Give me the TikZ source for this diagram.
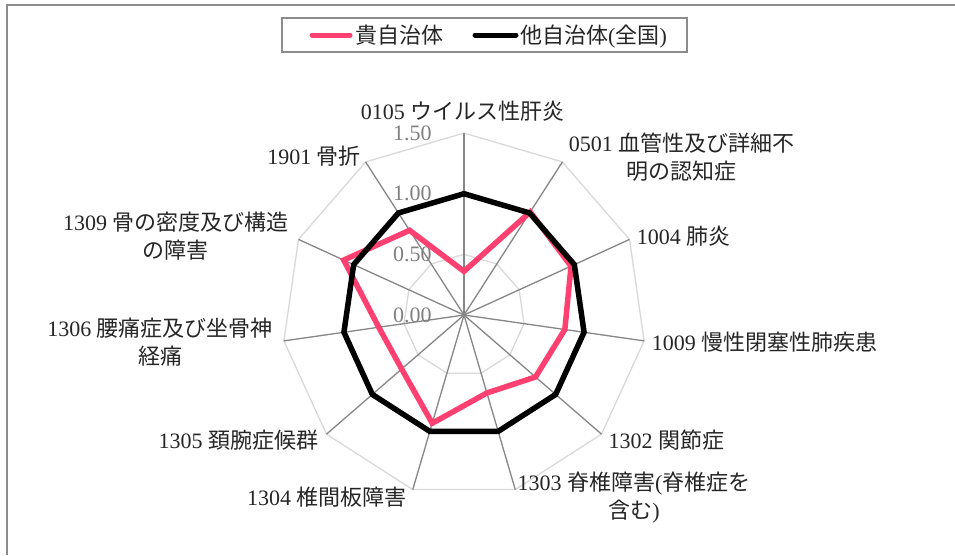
\documentclass[tikz,border=0pt]{standalone}
\usepackage{fontspec}
\setmainfont{Liberation Serif}
\newfontfamily\jpfont{Noto Sans CJK JP}
\newcommand{\ja}[1]{{\jpfont #1}}
\definecolor{ownred}{RGB}{255,64,112}
\definecolor{spokegray}{RGB}{134,134,134}
\definecolor{ringgray}{RGB}{217,217,217}
\definecolor{textgray}{RGB}{38,38,38}
\definecolor{tickgray}{RGB}{128,128,128}
\definecolor{framegray}{RGB}{140,140,140}
\tikzset{
  lbl/.style={font=\fontsize{22}{28}\selectfont,text=textgray,inner sep=0pt,align=center},
  tick/.style={font=\fontsize{22}{28}\selectfont,text=tickgray,inner sep=0pt,anchor=base east},
  ring/.style={ringgray,line width=1.3pt},
  spoke/.style={spokegray,line width=1.3pt},
  series/.style={line width=5.5pt,line join=miter},
  keyline/.style={line width=5pt,line cap=round}
}
\begin{document}
\begin{tikzpicture}[x=1pt,y=1pt]
  \path[use as bounding box,fill=white] (0,0) rectangle (955,-555);
  \draw[framegray,line width=1.5pt] (7,-555) -- (7,-5) -- (955,-5);

  \node[draw=framegray,line width=1.3pt,minimum width=405pt,minimum height=34pt,inner sep=0pt] (legend) at (484.5,-35) {};
  \draw[keyline,ownred] (312,-35) -- (350,-35);
  \node[lbl,anchor=base west] (keyown) at (355,-43.5) {\ja{貴自治体}};
  \draw[keyline,black] (475,-35) -- (516,-35);
  \node[lbl,anchor=base west] (keyall) at (520,-43.5) {\ja{他自治体}(\ja{全国})};

  \begin{scope}[shift={(464,-315)}]
    \foreach \r in {0.5,1.5}
      \draw[ring] (90:\r*121.3) \foreach \i in {1,...,10} { -- (90-\i*360/11:\r*121.3) } -- cycle;
    \foreach \i in {0,...,10}
      \draw[spoke] (0,0) -- (90-\i*360/11:1.5*121.3);
    \foreach \r/\t in {0/0.00,0.5/0.50,1/1.00,1.5/1.50}
      \node[tick] (tick\t) at (-32.3,\r*121.3-7) {\t};
    \draw[series,ownred] (90:0.36*121.3)
      \foreach \v [count=\i] in {1.01,0.97,0.84,0.78,0.67,0.93,0.68,0.71,1.09,0.83} { -- (90-\i*360/11:\v*121.3) } -- cycle;
    \draw[series,black] (90:121.3)
      \foreach \i in {1,...,10} { -- (90-\i*360/11:121.3) } -- cycle;
  \end{scope}

  \node[lbl,anchor=base] (l0105) at (462.5,-119) {0105 \ja{ウイルス性肝炎}};
  \node[lbl,anchor=base] (l0501) at (681.7,-179.7) {0501 \ja{血管性及び詳細不}\\\ja{明の認知症}};
  \node[lbl,anchor=base west] (l1004) at (636.7,-244) {1004 \ja{肺炎}};
  \node[lbl,anchor=base west] (l1009) at (651.7,-350.7) {1009 \ja{慢性閉塞性肺疾患}};
  \node[lbl,anchor=base west] (l1302) at (608.3,-448.3) {1302 \ja{関節症}};
  \node[lbl,anchor=base] (l1303) at (634,-518) {1303 \ja{脊椎障害}(\ja{脊椎症を}\\\ja{含む})};
  \node[lbl,anchor=base east] (l1304) at (406.7,-505) {1304 \ja{椎間板障害}};
  \node[lbl,anchor=base east] (l1305) at (318.3,-448.3) {1305 \ja{頚腕症候群}};
  \node[lbl,anchor=base] (l1306) at (160,-364) {1306 \ja{腰痛症及び坐骨神}\\\ja{経痛}};
  \node[lbl,anchor=base] (l1309) at (175.8,-258.7) {1309 \ja{骨の密度及び構造}\\\ja{の障害}};
  \node[lbl,anchor=base east] (l1901) at (361,-164) {1901 \ja{骨折}};
\end{tikzpicture}
\end{document}
